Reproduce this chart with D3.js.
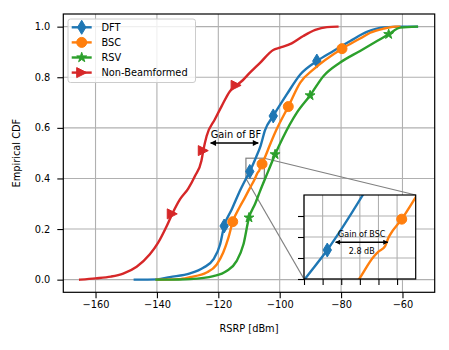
<!DOCTYPE html>
<html><head><meta charset="utf-8">
<script src="https://cdn.jsdelivr.net/npm/d3@7"></script>
<style>body{margin:0;background:#fff} svg{display:block} text{font-family:"DejaVu Sans",sans-serif;fill:#000}</style>
</head><body><svg id="c" width="449" height="350"></svg>
<script>
// ---------------- data ----------------
const seriesNames = ["DFT", "BSC", "RSV", "Non-Beamformed"];
const seriesColors = ["#1f77b4", "#ff7f0e", "#2ca02c", "#d62728"];
const seriesMarkers = ["thin_diamond", "circle", "star", "triangle_right"];

const dftX = [-147.2, -140, -135.8, -129.2, -124.9, -121.6, -119.4, -118.1, -115.6, -113.5, -112.4, -110.95, -109.75, -107.84, -106.2, -104.8, -102.1, -97.7, -93.3, -87.9, -82.5, -77, -71.6, -66.2, -60, -55.3];
const dftY = [0, 0.001, 0.01, 0.025, 0.047, 0.08, 0.14, 0.212, 0.278, 0.337, 0.365, 0.40, 0.4276, 0.48, 0.53, 0.59, 0.647, 0.732, 0.811, 0.864, 0.904, 0.943, 0.979, 0.997, 1.0, 1.0];
const dftMarkIdx = [7, 12, 16, 19];

const bscX = [-140, -133, -129.2, -123.8, -120.5, -118.4, -116.7, -115.3, -112.9, -111.3, -109.8, -108.04, -107.27, -107.0, -106.65, -106.47, -106.38, -105.75, -105.03, -103.1, -101.0, -97.2, -93.3, -89.0, -79.7, -73.8, -70.5, -66.2, -62.4, -61];
const bscY = [0, 0.002, 0.01, 0.028, 0.06, 0.107, 0.166, 0.229, 0.29, 0.325, 0.36, 0.40, 0.421, 0.426, 0.431, 0.439, 0.442, 0.457, 0.477, 0.535, 0.594, 0.684, 0.779, 0.831, 0.913, 0.953, 0.976, 0.992, 1.0, 1.0];
const bscMarkIdx = [7, 17, 21, 24];

const rsvX = [-140.1, -133, -129.2, -121.6, -117.3, -114.0, -111.8, -110.0, -108.0, -106.4, -103.7, -101.5, -99.0, -94.4, -90.1, -85.7, -80.3, -73.8, -68.3, -64.5, -60.7, -55.3];
const rsvY = [0, 0.0005, 0.002, 0.014, 0.034, 0.074, 0.14, 0.245, 0.30, 0.35, 0.43, 0.495, 0.56, 0.66, 0.728, 0.805, 0.858, 0.904, 0.943, 0.97, 0.996, 1.0];
const rsvMarkIdx = [7, 11, 14, 19];

const nbfX = [-165, -160, -155, -151, -146.6, -142.3, -139.6, -136.8, -135.0, -132.5, -129.8, -127.6, -125.5, -124.9, -123.8, -121.1, -118.9, -116.2, -114.2, -112.9, -109.7, -106.4, -102.1, -99.9, -96.1, -92.3, -88.4, -84.6, -81.2];
const nbfY = [0, 0.005, 0.012, 0.024, 0.051, 0.10, 0.146, 0.212, 0.26, 0.317, 0.36, 0.41, 0.47, 0.51, 0.568, 0.634, 0.686, 0.745, 0.768, 0.779, 0.818, 0.857, 0.908, 0.917, 0.934, 0.963, 0.987, 0.998, 1.0];
const nbfMarkIdx = [8, 13, 18];

const xTicks = [-160, -140, -120, -100, -80, -60];
const yTicks = [0.0, 0.2, 0.4, 0.6, 0.8, 1.0];
const xDomain = [-170.5, -49.5];
const yDomain = [-0.05, 1.05];

const insetXDomain = [-111, -105];
const insetYDomain = [0.40, 0.48];
const insetXTicks = [-111, -110, -109, -108, -107, -106];
const insetYTicks = [0.40, 0.42, 0.44, 0.46];

const gainBF = { from: -122.5, to: -107.0, y: 0.54, label: "Gain of BF" };
const gainBSC = { from: -109.3, to: -106.5, y: 0.435, label: "Gain of BSC", value: "2.8 dB" };

const xLabel = "RSRP [dBm]";
const yLabel = "Empirical CDF";

// ---------------- build ----------------
const series = [
  { name: seriesNames[0], color: seriesColors[0], marker: seriesMarkers[0], x: dftX, y: dftY, marks: dftMarkIdx },
  { name: seriesNames[1], color: seriesColors[1], marker: seriesMarkers[1], x: bscX, y: bscY, marks: bscMarkIdx },
  { name: seriesNames[2], color: seriesColors[2], marker: seriesMarkers[2], x: rsvX, y: rsvY, marks: rsvMarkIdx },
  { name: seriesNames[3], color: seriesColors[3], marker: seriesMarkers[3], x: nbfX, y: nbfY, marks: nbfMarkIdx }
];

const svg = d3.select("#c");
const L = 63.3, R = 434.7, T = 14, B = 292.3;
const x = d3.scaleLinear().domain(xDomain).range([L, R]);
const y = d3.scaleLinear().domain(yDomain).range([B, T]);

const FS = 9.8;
const gridColor = "#b0b0b0";
const LW = 2.4;

function markerPath(type) {
  if (type === "thin_diamond") return "M0,-7L4.2,0L0,7L-4.2,0Z";
  if (type === "circle") return "M5,0A5,5 0 1,1 -5,0A5,5 0 1,1 5,0Z";
  if (type === "triangle_right") return "M5,0L-5,-5L-5,5Z";
  if (type === "star") {
    const ro = 5.2, ri = ro * 0.381966;
    let p = [];
    for (let i = 0; i < 10; i++) {
      const r = i % 2 === 0 ? ro : ri;
      const a = -Math.PI / 2 + i * Math.PI / 5;
      p.push([r * Math.cos(a), r * Math.sin(a)]);
    }
    return "M" + p.map(d => d[0].toFixed(2) + "," + d[1].toFixed(2)).join("L") + "Z";
  }
}

const defs = svg.append("defs");
defs.append("clipPath").attr("id", "mainclip").append("rect")
  .attr("x", L).attr("y", T).attr("width", R - L).attr("height", B - T);

// grid
const grid = svg.append("g");
grid.selectAll(".gx").data(xTicks).enter().append("line")
  .attr("x1", d => x(d)).attr("x2", d => x(d)).attr("y1", T).attr("y2", B)
  .attr("stroke", gridColor).attr("stroke-width", 1.1);
grid.selectAll(".gy").data(yTicks).enter().append("line")
  .attr("y1", d => y(d)).attr("y2", d => y(d)).attr("x1", L).attr("x2", R)
  .attr("stroke", gridColor).attr("stroke-width", 1.1);

// inset indicator + connectors (under lines)
const ind = svg.append("g").attr("clip-path", "url(#mainclip)");
const IL = 304, IR = 415.7, IT = 195, IB = 279;
ind.append("rect")
  .attr("x", x(insetXDomain[0])).attr("y", y(insetYDomain[1]))
  .attr("width", x(insetXDomain[1]) - x(insetXDomain[0]))
  .attr("height", y(insetYDomain[0]) - y(insetYDomain[1]))
  .attr("fill", "none").attr("stroke", "#808080").attr("stroke-width", 1.2);
ind.append("line").attr("x1", x(insetXDomain[1])).attr("y1", y(insetYDomain[1])).attr("x2", IR).attr("y2", IT)
  .attr("stroke", "#808080").attr("stroke-width", 1.2);
ind.append("line").attr("x1", x(insetXDomain[0])).attr("y1", y(insetYDomain[0])).attr("x2", IL).attr("y2", IB)
  .attr("stroke", "#808080").attr("stroke-width", 1.2);

// lines
function drawSeries(g, xs, ys, clipId) {
  const gg = g.append("g").attr("clip-path", `url(#${clipId})`);
  series.forEach(s => {
    const pts = s.x.map((v, i) => [v, s.y[i]]);
    gg.append("path").datum(pts)
      .attr("d", d3.line().curve(d3.curveMonotoneX).x(d => xs(d[0])).y(d => ys(d[1])))
      .attr("fill", "none").attr("stroke", s.color).attr("stroke-width", LW)
      .attr("stroke-linejoin", "round").attr("stroke-linecap", "square");
    gg.selectAll(null).data(s.marks.map(i => pts[i])).enter().append("path")
      .attr("d", markerPath(s.marker))
      .attr("transform", d => `translate(${xs(d[0])},${ys(d[1])})`)
      .attr("fill", s.color).attr("stroke", s.color).attr("stroke-width", 1);
  });
}
drawSeries(svg, x, y, "mainclip");

// arrows
defs.append("marker").attr("id", "ah").attr("viewBox", "0 0 10 10").attr("refX", 9).attr("refY", 5)
  .attr("markerWidth", 7).attr("markerHeight", 6).attr("markerUnits", "userSpaceOnUse").attr("orient", "auto-start-reverse")
  .append("path").attr("d", "M0,0L10,5L0,10Z").attr("fill", "#000");
defs.append("marker").attr("id", "ah2").attr("viewBox", "0 0 10 10").attr("refX", 9).attr("refY", 5)
  .attr("markerWidth", 6).attr("markerHeight", 5).attr("markerUnits", "userSpaceOnUse").attr("orient", "auto-start-reverse")
  .append("path").attr("d", "M0,0L10,5L0,10Z").attr("fill", "#000");

svg.append("line").attr("x1", x(gainBF.from)).attr("x2", x(gainBF.to))
  .attr("y1", y(gainBF.y)).attr("y2", y(gainBF.y))
  .attr("stroke", "#000").attr("stroke-width", 1.4)
  .attr("marker-start", "url(#ah)").attr("marker-end", "url(#ah)");
svg.append("text").attr("x", x(gainBF.from)).attr("y", y(gainBF.y) - 5.5)
  .attr("font-size", FS).text(gainBF.label);

// axes spines
svg.append("rect").attr("x", L).attr("y", T).attr("width", R - L).attr("height", B - T)
  .attr("fill", "none").attr("stroke", "#000").attr("stroke-width", 1.2);

// ticks
const xAx = svg.append("g").attr("transform", `translate(0,${B})`)
  .call(d3.axisBottom(x).tickValues(xTicks).tickSize(6).tickPadding(3).tickFormat(d => d3.format("d")(d).replace("-", "\u2212")));
const yAx = svg.append("g").attr("transform", `translate(${L},0)`)
  .call(d3.axisLeft(y).tickValues(yTicks).tickSize(6).tickPadding(7).tickFormat(d3.format(".1f")));
[xAx, yAx].forEach(a => {
  a.select(".domain").remove();
  a.selectAll(".tick line").attr("stroke", "#000").attr("stroke-width", 1.1);
  a.selectAll(".tick text").attr("font-size", FS).attr("font-family", "DejaVu Sans");
});

// axis labels
svg.append("text").attr("x", (L + R) / 2).attr("y", 332).attr("text-anchor", "middle")
  .attr("font-size", FS).text(xLabel);
svg.append("text").attr("transform", `translate(20,${(T + B) / 2}) rotate(-90)`).attr("text-anchor", "middle")
  .attr("font-size", FS).text(yLabel);

// legend
const lg = svg.append("g");
lg.append("rect").attr("x", 68).attr("y", 19).attr("width", 127.5).attr("height", 63.5)
  .attr("rx", 2.5).attr("fill", "#fff").attr("fill-opacity", 0.8).attr("stroke", "#cccccc").attr("stroke-width", 1);
series.forEach((s, i) => {
  const yy = 27.3 + i * 15.1;
  lg.append("line").attr("x1", 71.7).attr("x2", 91.7).attr("y1", yy).attr("y2", yy)
    .attr("stroke", s.color).attr("stroke-width", LW);
  lg.append("path").attr("d", markerPath(s.marker)).attr("transform", `translate(81.7,${yy})`)
    .attr("fill", s.color).attr("stroke", s.color).attr("stroke-width", 1);
  lg.append("text").attr("x", 101.5).attr("y", yy).attr("dy", "0.36em").attr("font-size", FS).text(s.name);
});

// inset
const ix = d3.scaleLinear().domain(insetXDomain).range([IL, IR]);
const iy = d3.scaleLinear().domain(insetYDomain).range([IB, IT]);
defs.append("clipPath").attr("id", "insclip").append("rect")
  .attr("x", IL).attr("y", IT).attr("width", IR - IL).attr("height", IB - IT);
const ins = svg.append("g");
ins.append("rect").attr("x", IL).attr("y", IT).attr("width", IR - IL).attr("height", IB - IT).attr("fill", "#fff");
ins.selectAll(".igx").data(insetXTicks).enter().append("line")
  .attr("x1", d => ix(d)).attr("x2", d => ix(d)).attr("y1", IT).attr("y2", IB)
  .attr("stroke", gridColor).attr("stroke-width", 1.1);
ins.selectAll(".igy").data(insetYTicks).enter().append("line")
  .attr("y1", d => iy(d)).attr("y2", d => iy(d)).attr("x1", IL).attr("x2", IR)
  .attr("stroke", gridColor).attr("stroke-width", 1.1);
drawSeries(ins, ix, iy, "insclip");
ins.append("line").attr("x1", ix(gainBSC.from)).attr("x2", ix(gainBSC.to))
  .attr("y1", iy(gainBSC.y)).attr("y2", iy(gainBSC.y))
  .attr("stroke", "#000").attr("stroke-width", 1.4)
  .attr("marker-start", "url(#ah2)").attr("marker-end", "url(#ah2)");
const cxm = (ix(gainBSC.from) + ix(gainBSC.to)) / 2;
ins.append("text").attr("x", cxm).attr("y", iy(gainBSC.y) - 5).attr("text-anchor", "middle")
  .attr("font-size", 8).text(gainBSC.label);
ins.append("text").attr("x", cxm).attr("y", iy(gainBSC.y) + 11.3).attr("text-anchor", "middle")
  .attr("font-size", 8).text(gainBSC.value);
ins.append("rect").attr("x", IL).attr("y", IT).attr("width", IR - IL).attr("height", IB - IT)
  .attr("fill", "none").attr("stroke", "#000").attr("stroke-width", 1.2);
const ixAx = ins.append("g").attr("transform", `translate(0,${IB})`)
  .call(d3.axisBottom(ix).tickValues(insetXTicks).tickSize(6).tickFormat(""));
const iyAx = ins.append("g").attr("transform", `translate(${IL},0)`)
  .call(d3.axisLeft(iy).tickValues(insetYTicks).tickSize(6).tickFormat(""));
[ixAx, iyAx].forEach(a => {
  a.select(".domain").remove();
  a.selectAll(".tick line").attr("stroke", "#000").attr("stroke-width", 1.1);
});
</script>
</body></html>
